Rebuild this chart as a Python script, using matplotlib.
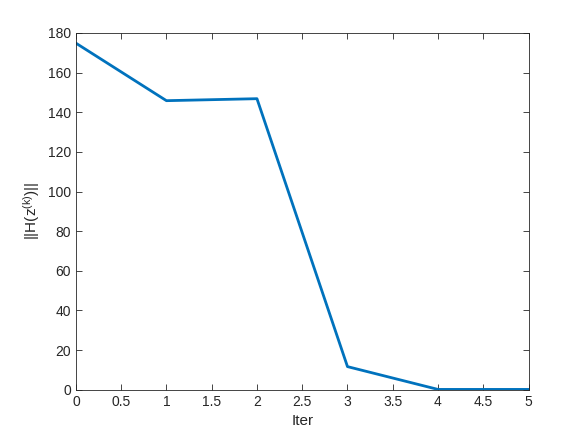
import matplotlib
matplotlib.use("Agg")
import matplotlib.pyplot as plt

# values
iters = [0, 1, 2, 3, 4, 5]
norm_h = [174.8, 145.8, 146.8, 11.7, 0.2, 0.2]

plt.rcParams['font.family'] = ['Liberation Sans', 'DejaVu Sans']
plt.rcParams['mathtext.fontset'] = 'custom'
plt.rcParams['mathtext.rm'] = 'Liberation Sans'
plt.rcParams['mathtext.it'] = 'Liberation Sans'

fig = plt.figure(figsize=(5.84, 4.38), dpi=100)
ax = fig.add_axes([0.13, 0.11, 0.775, 0.815])

ax.plot(iters, norm_h, color='#0072BD', linewidth=2)

ax.set_xlim(0, 5)
ax.set_ylim(0, 180)
ax.set_xticks([0, 0.5, 1, 1.5, 2, 2.5, 3, 3.5, 4, 4.5, 5])
ax.set_xticklabels(['0', '0.5', '1', '1.5', '2', '2.5', '3', '3.5', '4', '4.5', '5'])
ax.set_yticks(range(0, 181, 20))

edge = '#262626'
for s in ax.spines.values():
    s.set_color(edge)
    s.set_linewidth(0.6)
ax.tick_params(direction='in', top=True, right=True, length=4, width=0.6,
               color=edge, labelcolor=edge, labelsize=10)

ax.set_xlabel('Iter', fontsize=11, color=edge)
ax.set_ylabel(r'||H(z$^{\mathregular{(k)}}$)||', fontsize=11, color=edge)

fig.savefig('out.png', dpi=100)
